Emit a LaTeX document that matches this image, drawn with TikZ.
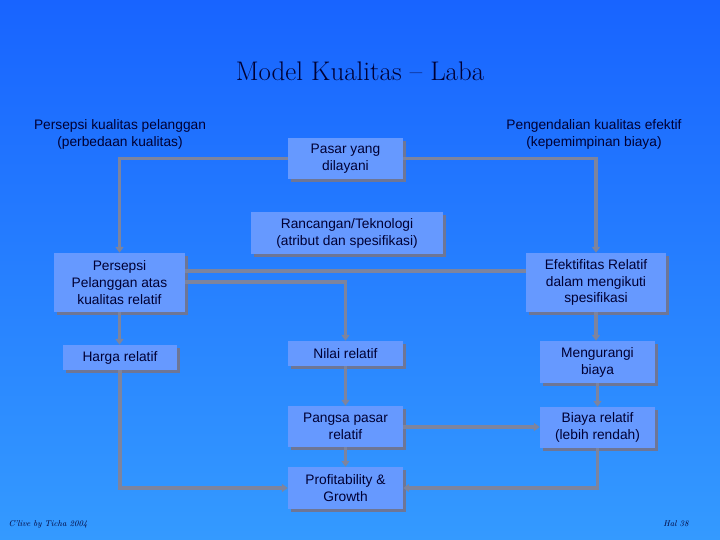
\documentclass[tikz,border=0pt]{standalone}
\usepackage{fontspec}
\setsansfont{Liberation Sans}
\usetikzlibrary{arrows.meta,shadows}
\definecolor{bgtop}{RGB}{24,100,255}
\definecolor{bgbot}{RGB}{52,154,255}
\definecolor{boxfill}{RGB}{102,153,255}
\definecolor{shadowgray}{RGB}{110,118,150}
\definecolor{linegray}{RGB}{125,132,158}
\definecolor{ink}{RGB}{0,0,51}
\begin{document}
\begin{tikzpicture}[x=1bp,y=-1bp,
  box/.style={rectangle, fill=boxfill, inner sep=2bp, align=center, text=ink,
    font=\sffamily\fontsize{13.8}{17}\selectfont,
    drop shadow={shadow xshift=3bp, shadow yshift=-3bp, fill=shadowgray, opacity=1}},
  lbl/.style={align=center, text=ink, font=\sffamily\fontsize{13.8}{17}\selectfont},
  conn/.style={draw=linegray, line width=3.5bp, -{Triangle[length=6bp,width=8bp]}},
  plain/.style={draw=linegray, line width=3.5bp}]
\useasboundingbox (0,0) rectangle (720,540);
\shade[top color=bgtop, bottom color=bgbot] (0,0) rectangle (720,540);

\node[text=ink, font=\fontsize{27}{30}\selectfont] (title) at (360,71) {Model Kualitas -- Laba};

\node[lbl] (lpers) at (120,134.5) {Persepsi kualitas pelanggan\\(perbedaan kualitas)};
\node[lbl] (lpeng) at (594,134.5) {Pengendalian kualitas efektif\\(kepemimpinan biaya)};

\node[box, minimum width=115bp, minimum height=41bp] (pasar) at (345.5,158.5) {Pasar yang\\dilayani};
\node[box, minimum width=192bp, minimum height=42bp] (ranc) at (347,233) {Rancangan/Teknologi\\(atribut dan spesifikasi)};
\node[box, minimum width=131bp, minimum height=59bp] (pers) at (119.5,282.5) {Persepsi\\Pelanggan atas\\kualitas relatif};
\node[box, minimum width=140bp, minimum height=59bp] (efek) at (596,282.5) {Efektifitas Relatif\\dalam mengikuti\\spesifikasi};
\node[box, minimum width=114bp, minimum height=25bp] (harga) at (120,357.5) {Harga relatif};
\node[box, minimum width=115bp, minimum height=25bp] (nilai) at (345.5,353.5) {Nilai relatif};
\node[box, minimum width=115bp, minimum height=42bp] (meng) at (597.5,362) {Mengurangi\\biaya};
\node[box, minimum width=115bp, minimum height=41bp] (pangsa) at (345.5,426.5) {Pangsa pasar\\relatif};
\node[box, minimum width=115bp, minimum height=41bp] (biaya) at (597.5,427.5) {Biaya relatif\\(lebih rendah)};
\node[box, minimum width=115bp, minimum height=42bp] (profit) at (345.5,488) {Profitability \&\\Growth};

\coordinate (yA) at (0,271);
\coordinate (yB) at (0,282);
\coordinate (yC) at (0,427);

\draw[conn] (pasar.west) -| (pers.north);
\draw[conn] (pasar.east) -| (efek.north);
\draw[plain] (pers.east |- yA) -- (efek.west |- yA);
\draw[conn] (pers.east |- yB) -| (nilai.north);
\draw[conn] (pers.south) -- (pers.south |- harga.north);
\draw[conn] (efek.south) -- (efek.south |- meng.north);
\draw[conn] (nilai.south) -- (nilai.south |- pangsa.north);
\draw[conn] (meng.south) -- (meng.south |- biaya.north);
\draw[conn] (pangsa.east |- yC) -- (biaya.west |- yC);
\draw[conn] (pangsa.south) -- (pangsa.south |- profit.north);
\draw[conn] (harga.south) |- (profit.west);
\draw[conn] (biaya.south) |- (profit.east);

\node[text=ink, font=\itshape\fontsize{8.5}{10}\selectfont, anchor=west] (credit) at (5,524) {C'live by Ticha 2004};
\node[text=ink, font=\itshape\fontsize{8.5}{10}\selectfont, anchor=east] (hal) at (692,524) {Hal 38};
\end{tikzpicture}
\end{document}
